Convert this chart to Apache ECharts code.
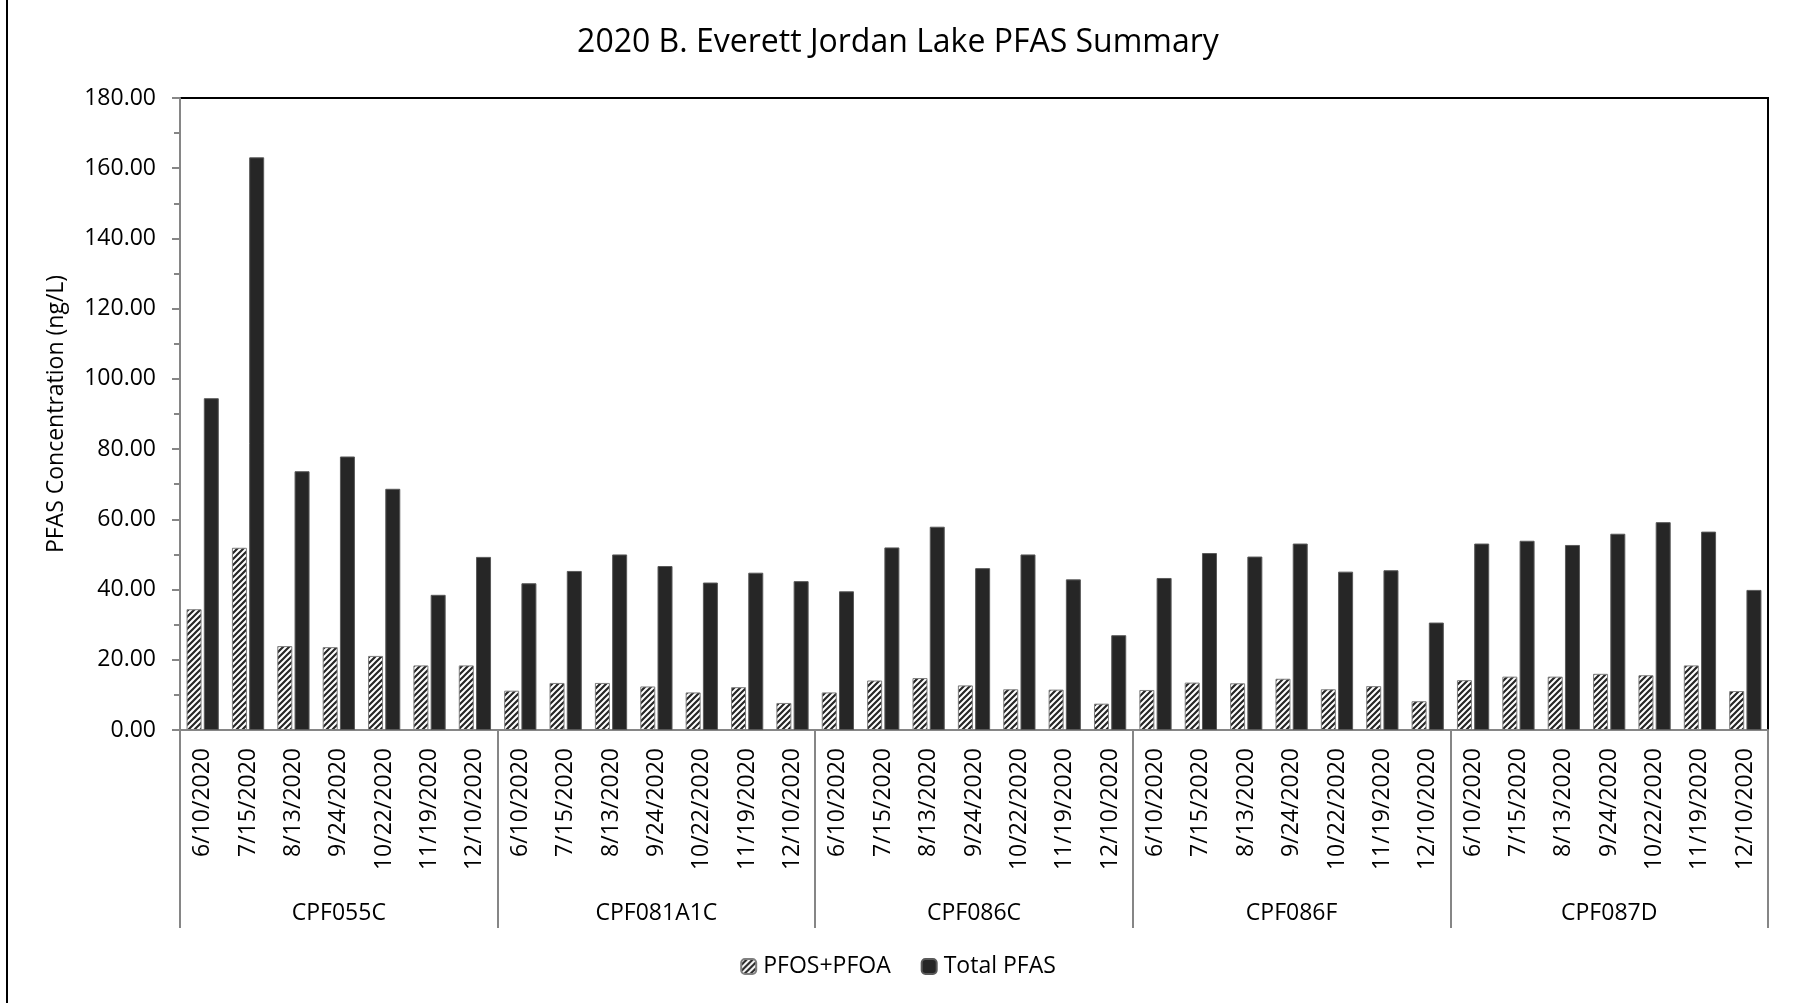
<!DOCTYPE html>
<html>
<head>
<meta charset="utf-8">
<script src="https://cdn.jsdelivr.net/npm/echarts@6/dist/echarts.min.js"></script>
<style>
  html, body { margin: 0; padding: 0; background: #fff; }
  #chart { width: 1796px; height: 1003px; }
</style>
</head>
<body>
<div id="chart"></div>
<script>
const sites = ['CPF055C', 'CPF081A1C', 'CPF086C', 'CPF086F', 'CPF087D'];
const dates = ['6/10/2020', '7/15/2020', '8/13/2020', '9/24/2020', '10/22/2020', '11/19/2020', '12/10/2020'];

// values in site order, 7 sampling dates per site
const pfosPfoa = [
  34.4, 51.9, 23.9, 23.6, 21.1, 18.4, 18.4,
  11.2, 13.4, 13.4, 12.4, 10.7, 12.2, 7.7,
  10.7, 14.1, 14.8, 12.7, 11.6, 11.5, 7.5,
  11.4, 13.5, 13.3, 14.6, 11.6, 12.5, 8.2,
  14.2, 15.2, 15.2, 16.0, 15.6, 18.4, 11.1
];
const totalPfas = [
  94.5, 163.1, 73.7, 77.9, 68.7, 38.5, 49.3,
  41.8, 45.3, 50.0, 46.7, 42.0, 44.8, 42.4,
  39.5, 52.0, 57.9, 46.1, 50.0, 42.9, 27.0,
  43.3, 50.4, 49.4, 53.1, 45.1, 45.5, 30.6,
  53.1, 53.9, 52.7, 55.9, 59.2, 56.5, 39.9
];

const categories = [];
sites.forEach(() => dates.forEach(d => categories.push(d)));

// diagonal hatch for PFOS+PFOA
function hatch() {
  const s = 6;
  const c = document.createElement('canvas');
  c.width = s; c.height = s;
  const ctx = c.getContext('2d');
  ctx.fillStyle = '#fff';
  ctx.fillRect(0, 0, s, s);
  ctx.strokeStyle = '#262626';
  ctx.lineWidth = 2.2;
  ctx.beginPath();
  ctx.moveTo(-1, s + 1); ctx.lineTo(s + 1, -1);
  ctx.moveTo(-1, 1); ctx.lineTo(1, -1);
  ctx.moveTo(s - 1, s + 1); ctx.lineTo(s + 1, s - 1);
  ctx.stroke();
  return c;
}

const font = 'Open Sans';
const grey = '#868686';
const myChart = echarts.init(document.getElementById('chart'));

const option = {
  backgroundColor: '#fff',
  animation: false,
  textStyle: { fontFamily: font, color: '#000' },
  title: {
    text: '2020 B. Everett Jordan Lake PFAS Summary',
    left: 'center',
    top: 22,
    textStyle: { fontFamily: font, fontSize: 32, fontWeight: 'normal', color: '#000' }
  },
  legend: {
    bottom: 20,
    left: 'center',
    itemWidth: 15,
    itemHeight: 15,
    itemGap: 30,
    textStyle: { fontFamily: font, fontSize: 23, color: '#000', padding: [0, 0, 0, 2] },
    data: ['PFOS+PFOA', 'Total PFAS']
  },
  grid: {
    left: 180,
    right: 28,
    top: 98,
    bottom: 273,
    show: true,
    borderColor: '#000',
    borderWidth: 2
  },
  xAxis: [
    {
      type: 'category',
      data: categories,
      axisLine: { lineStyle: { color: grey, width: 2 } },
      axisTick: { show: false },
      axisLabel: {
        interval: 0,
        rotate: 90,
        margin: 18,
        fontFamily: font,
        fontSize: 23,
        color: '#000'
      }
    },
    {
      type: 'category',
      data: sites,
      position: 'bottom',
      axisLine: { show: false },
      axisTick: { show: true, length: 198, lineStyle: { color: grey, width: 2 } },
      axisLabel: { margin: 172, fontFamily: font, fontSize: 23, color: '#000' }
    }
  ],
  yAxis: {
    type: 'value',
    min: 0,
    max: 180,
    interval: 20,
    name: 'PFAS Concentration (ng/L)',
    nameLocation: 'middle',
    nameGap: 112,
    nameTextStyle: { fontFamily: font, fontSize: 23, color: '#000' },
    axisLine: { show: true, lineStyle: { color: grey, width: 2 } },
    axisTick: { show: true, length: 8, lineStyle: { color: grey, width: 2 } },
    minorTick: { show: true, splitNumber: 2, length: 6, lineStyle: { color: grey, width: 2 } },
    splitLine: { show: false },
    axisLabel: {
      margin: 24,
      fontFamily: font,
      fontSize: 23,
      color: '#000',
      formatter: v => v.toFixed(2)
    }
  },
  graphic: [
    { type: 'line', shape: { x1: 7, y1: 0, x2: 7, y2: 1003 }, style: { stroke: '#000', lineWidth: 2 } }
  ],
  series: [
    {
      name: 'PFOS+PFOA',
      type: 'bar',
      xAxisIndex: 0,
      barWidth: 15,
      barGap: '15%',
      itemStyle: {
        color: { image: hatch(), repeat: 'repeat' },
        borderColor: '#7f7f7f',
        borderWidth: 1
      },
      data: pfosPfoa
    },
    {
      name: 'Total PFAS',
      type: 'bar',
      xAxisIndex: 0,
      barWidth: 15,
      itemStyle: {
        color: '#262626',
        borderColor: '#595959',
        borderWidth: 1
      },
      data: totalPfas
    }
  ]
};

myChart.setOption(option);
</script>
</body>
</html>
